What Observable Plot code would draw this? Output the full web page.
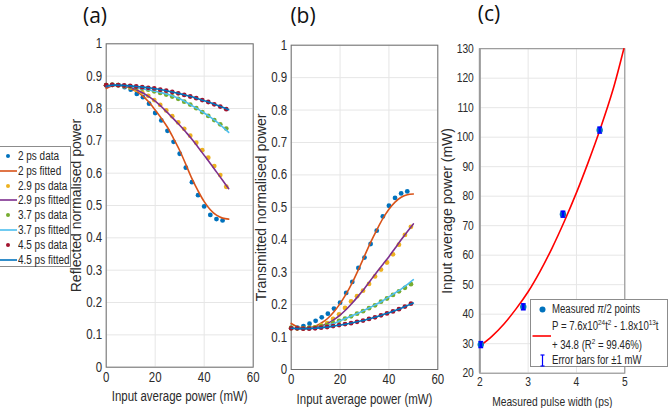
<!DOCTYPE html>
<html><head><meta charset="utf-8">
<script src="https://cdn.jsdelivr.net/npm/d3@7"></script>
<script src="https://cdn.jsdelivr.net/npm/@observablehq/plot@0.6"></script>
<style>
body{margin:0;background:#fff;}
#root{position:relative;width:668px;height:408px;overflow:hidden;font-family:"Liberation Sans",Arial,sans-serif;color:#262626;}
.title{position:absolute;font-family:"Open Sans",sans-serif;font-size:21px;color:#111;transform:translate(-50%,-50%);white-space:nowrap;}
.leg{position:absolute;background:#fff;border:1px solid #8c8c8c;box-sizing:border-box;}
.row{position:absolute;left:0;height:14px;line-height:14px;white-space:nowrap;}
.row span.t{display:inline-block;transform-origin:0 50%;position:absolute;line-height:14px;}
.row sup{font-size:8px;vertical-align:baseline;position:relative;top:-5px;line-height:0;}
.sym{position:absolute;}
</style></head>
<body><div id="root"></div>
<script>
// ---------- data ----------
const powerStep25 = [0,2.5,5,7.5,10,12.5,15,17.5,20,22.5,25,27.5,30,32.5,35,37.5,40,42.5,45,47.5];
const powerStep245 = [0,2.45,4.9,7.35,9.8,12.25,14.7,17.15,19.6,22.05,24.5,26.95,29.4,31.85,34.3,36.75,39.2,41.65,44.1,46.55,49];
const fitPower = [0,2.5,5,7.5,10,12.5,15,17.5,20,22.5,25,27.5,30,32.5,35,37.5,40,42.5,45,47.5,50];

// (a) reflected
const refl2Data  = [0.872,0.873,0.872,0.866,0.858,0.845,0.835,0.815,0.786,0.763,0.731,0.697,0.660,0.617,0.572,0.532,0.497,0.471,0.458,0.454];
const refl2Fit   = [0.862,0.870,0.872,0.870,0.862,0.852,0.838,0.819,0.795,0.770,0.742,0.707,0.670,0.627,0.583,0.545,0.512,0.487,0.470,0.461,0.458];
const refl29Data = [0.872,0.873,0.872,0.869,0.865,0.858,0.850,0.839,0.826,0.811,0.794,0.776,0.757,0.737,0.716,0.694,0.671,0.648,0.622,0.594,0.558];
const refl29Fit  = [0.866,0.871,0.872,0.870,0.865,0.857,0.848,0.836,0.823,0.806,0.787,0.768,0.748,0.727,0.705,0.680,0.655,0.630,0.604,0.578,0.552];
const refl37Data = [0.872,0.873,0.872,0.870,0.868,0.865,0.862,0.858,0.853,0.848,0.843,0.837,0.830,0.821,0.812,0.801,0.789,0.777,0.764,0.751,0.738];
const refl37Fit  = [0.868,0.871,0.872,0.870,0.868,0.864,0.860,0.857,0.853,0.849,0.844,0.838,0.830,0.820,0.809,0.798,0.786,0.773,0.759,0.743,0.726];
const refl45Data = [0.872,0.873,0.872,0.871,0.870,0.868,0.866,0.864,0.862,0.858,0.855,0.851,0.847,0.842,0.837,0.832,0.826,0.820,0.813,0.806,0.798];
const refl45Fit  = [0.869,0.872,0.872,0.871,0.870,0.868,0.866,0.864,0.861,0.858,0.854,0.850,0.846,0.841,0.836,0.830,0.824,0.818,0.811,0.804,0.796];

// (b) transmitted
const trans2Data  = [0.128,0.129,0.134,0.141,0.150,0.161,0.172,0.188,0.206,0.236,0.270,0.313,0.345,0.387,0.428,0.472,0.505,0.529,0.543,0.549];
const trans2Fit   = [0.142,0.132,0.128,0.129,0.134,0.144,0.158,0.178,0.203,0.233,0.268,0.308,0.350,0.392,0.430,0.465,0.494,0.516,0.531,0.539,0.541];
const trans29Data = [0.128,0.127,0.127,0.128,0.130,0.136,0.143,0.156,0.170,0.190,0.210,0.226,0.243,0.264,0.287,0.308,0.330,0.355,0.385,0.415,0.440];
const trans29Fit  = [0.127,0.126,0.126,0.127,0.130,0.135,0.143,0.154,0.168,0.185,0.205,0.227,0.250,0.275,0.300,0.324,0.348,0.374,0.400,0.425,0.449];
const trans37Data = [0.128,0.127,0.127,0.128,0.130,0.133,0.137,0.143,0.150,0.157,0.164,0.172,0.180,0.189,0.198,0.209,0.219,0.230,0.241,0.252,0.263];
const trans37Fit  = [0.128,0.127,0.126,0.127,0.128,0.131,0.136,0.142,0.150,0.158,0.166,0.174,0.183,0.192,0.202,0.212,0.224,0.236,0.248,0.262,0.277];
const trans45Data = [0.127,0.127,0.126,0.126,0.127,0.129,0.131,0.134,0.137,0.140,0.143,0.147,0.151,0.156,0.161,0.167,0.173,0.179,0.186,0.194,0.203];
const trans45Fit  = [0.127,0.126,0.126,0.126,0.127,0.129,0.131,0.134,0.137,0.140,0.144,0.148,0.152,0.157,0.163,0.169,0.175,0.182,0.189,0.197,0.205];

const legendNames = ["2 ps data","2 ps fitted","2.9 ps data","2.9 ps fitted","3.7 ps data","3.7 ps fitted","4.5 ps data","4.5 ps fitted"];
const seriesColors = ["#0072BD","#D95319","#EDB120","#7E2F8E","#77AC30","#4DBEEE","#A2142F","#0072BD"];

const powerTicks = [0,20,40,60];
const normTicks = [0,0.1,0.2,0.3,0.4,0.5,0.6,0.7,0.8,0.9,1];

// (c)
const pulseWidth = [2.02,2.9,3.72,4.48];
const measuredPower = [29.7,42.5,73.9,102.4];
const errorMw = 1;
const fitPulse = [2,2.25,2.5,2.75,3,3.25,3.5,3.75,4,4.25,4.5,4.75,4.98];
const fitPowerC = [29.2,32.5,36.7,41.8,47.6,54.6,62.6,71.5,81.2,91.8,103.2,115.8,130];
const pulseTicks = [2,3,4,5];
const mwTicks = [20,30,40,50,60,70,80,90,100,110,120,130];

// ---------- helpers ----------
const rows = (xs, ys) => xs.map((x,i)=>({x, y: ys[i]}));
const root = document.getElementById("root");

function squeeze(svg, k){
  svg.querySelectorAll("text").forEach(t=>{
    const tr = t.getAttribute("transform") || "";
    if (/rotate/.test(tr)) { t.style.fontSize = "14px"; return; }
    t.setAttribute("transform", (tr + " scale(" + k + ",1)").trim());
  });
}

function powerPanel({left, width, ml, mr, mt, mb, yLabel, sets}){
  const marks = [
    Plot.gridX(powerTicks, {stroke:"#e6e6e6", strokeOpacity:1}),
    Plot.gridY(normTicks, {stroke:"#e6e6e6", strokeOpacity:1}),
    Plot.frame({stroke:"#6e6e6e"}),
    Plot.axisX(powerTicks, {tickSize:0, tickPadding:5, label:"Input average power (mW)", labelAnchor:"center", labelOffset:34, labelArrow:"none"}),
    Plot.axisY(normTicks, {tickSize:0, tickPadding:4, label:yLabel, labelAnchor:"center", labelOffset:35, labelArrow:"none", tickFormat:d=>String(d)})
  ];
  sets.forEach((s,i)=>{
    if (s.kind === "data") marks.push(Plot.dot(rows(s.x, s.y), {x:"x", y:"y", r:2.4, fill:seriesColors[i], stroke:"none"}));
    else marks.push(Plot.line(rows(s.x, s.y), {x:"x", y:"y", stroke:seriesColors[i], strokeWidth:1.6, curve:"catmull-rom"}));
  });
  const svg = Plot.plot({
    width, height:408, marginLeft:ml, marginRight:mr, marginTop:mt, marginBottom:mb,
    x:{domain:[0,60]}, y:{domain:[0,1]},
    style:{fontFamily:"Liberation Sans, Arial, sans-serif", fontSize:"14px", color:"#2b2b2b", background:"transparent", overflow:"visible"},
    marks
  });
  squeeze(svg, 0.82);
  svg.style.position = "absolute"; svg.style.top = "0px";
  svg.style.left = left + "px";
  root.appendChild(svg);
}

powerPanel({left:40, width:225, ml:65.7, mr:12.3, mt:43.3, mb:41.3, yLabel:"Reflected normalised power", sets:[
  {kind:"data", x:powerStep25, y:refl2Data}, {kind:"fit", x:fitPower, y:refl2Fit},
  {kind:"data", x:powerStep245, y:refl29Data}, {kind:"fit", x:fitPower, y:refl29Fit},
  {kind:"data", x:powerStep245, y:refl37Data}, {kind:"fit", x:fitPower, y:refl37Fit},
  {kind:"data", x:powerStep245, y:refl45Data}, {kind:"fit", x:fitPower, y:refl45Fit}
]});
powerPanel({left:230, width:225, ml:60.7, mr:17.7, mt:44.7, mb:39, yLabel:"Transmitted normalised power", sets:[
  {kind:"data", x:powerStep25, y:trans2Data}, {kind:"fit", x:fitPower, y:trans2Fit},
  {kind:"data", x:powerStep245, y:trans29Data}, {kind:"fit", x:fitPower, y:trans29Fit},
  {kind:"data", x:powerStep245, y:trans37Data}, {kind:"fit", x:fitPower, y:trans37Fit},
  {kind:"data", x:powerStep245, y:trans45Data}, {kind:"fit", x:fitPower, y:trans45Fit}
]});

// panel (c)
{
  const pts = pulseWidth.map((t,i)=>({t, p: measuredPower[i]}));
  const svg = Plot.plot({
    width:238, height:408, marginLeft:49.3, marginRight:43.7, marginTop:48.2, marginBottom:35.3,
    x:{domain:[2,5]}, y:{domain:[20,130]},
    style:{fontFamily:"Liberation Sans, Arial, sans-serif", fontSize:"13px", color:"#2b2b2b", background:"transparent", overflow:"visible"},
    marks:[
      Plot.gridX(pulseTicks, {stroke:"#e6e6e6", strokeOpacity:1}),
      Plot.gridY(mwTicks, {stroke:"#e6e6e6", strokeOpacity:1}),
      Plot.frame({stroke:"#8a8a8a"}),
      Plot.ruleX([2], {stroke:"#9a9a9a", strokeWidth:2}),
      Plot.axisX(pulseTicks, {tickSize:0, tickPadding:4, label:"Measured pulse width (ps)", labelAnchor:"center", labelOffset:33, labelArrow:"none"}),
      Plot.axisY(mwTicks, {tickSize:0, tickPadding:6, label:"Input average power (mW)", labelAnchor:"center", labelOffset:38, labelArrow:"none"}),
      Plot.line(rows(fitPulse, fitPowerC), {x:"x", y:"y", stroke:"#ff0000", strokeWidth:1.6, curve:"catmull-rom"}),
      Plot.dot(pts, {x:"t", y:"p", r:3.2, fill:"#0072BD"}),
      Plot.ruleX(pts, {x:"t", y1:d=>d.p-errorMw, y2:d=>d.p+errorMw, stroke:"#0000ff", strokeWidth:2.5}),
      Plot.link(pts, {x1:d=>d.t-0.05, x2:d=>d.t+0.05, y1:d=>d.p+errorMw, y2:d=>d.p+errorMw, stroke:"#0000ff", strokeWidth:1.5}),
      Plot.link(pts, {x1:d=>d.t-0.05, x2:d=>d.t+0.05, y1:d=>d.p-errorMw, y2:d=>d.p-errorMw, stroke:"#0000ff", strokeWidth:1.5})
    ]
  });
  squeeze(svg, 0.79);
  svg.style.position = "absolute"; svg.style.left = "430px"; svg.style.top = "0px";
  root.appendChild(svg);
}

// titles
[["(a)",95,15],["(b)",303,15],["(c)",489,13]].forEach(([t,x,y])=>{
  const d = document.createElement("div"); d.className="title"; d.textContent=t;
  d.style.left = x+"px"; d.style.top = y+"px"; root.appendChild(d);
});

// legend (a)
{
  const box = document.createElement("div"); box.className="leg";
  Object.assign(box.style,{left:"-1px", top:"146px", width:"72px", height:"121px"});
  legendNames.forEach((name,i)=>{
    const cy = 9 + i*14.8;
    const r = document.createElement("div"); r.className="row";
    r.style.top = (cy-7)+"px"; r.style.width="70px";
    const isData = i%2===0;
    const sym = isData
      ? `<svg class="sym" width="18" height="14" style="left:0;top:0"><circle cx="8" cy="7" r="2" fill="${seriesColors[i]}"/></svg>`
      : `<svg class="sym" width="18" height="14" style="left:0;top:0"><line x1="0" x2="17" y1="7" y2="7" stroke="${seriesColors[i]}" stroke-width="1.6"/></svg>`;
    r.innerHTML = sym + `<span class="t" style="left:18px;font-size:12px;transform:scaleX(0.83)">${name}</span>`;
    box.appendChild(r);
  });
  root.appendChild(box);
}

// legend (c)
{
  const box = document.createElement("div"); box.className="leg";
  Object.assign(box.style,{left:"530px", top:"299px", width:"138px", height:"68px"});
  const fs = "font-size:12px;transform:scaleX(0.8)";
  box.innerHTML = `
    <svg class="sym" width="22" height="68" style="left:0;top:0">
      <circle cx="11.5" cy="9.5" r="3" fill="#0072BD"/>
      <line x1="1.5" x2="20" y1="36" y2="36" stroke="#ff0000" stroke-width="1.6"/>
      <line x1="11.5" x2="11.5" y1="55" y2="66" stroke="#0000ff" stroke-width="1.2"/>
      <line x1="9.5" x2="13.5" y1="55" y2="55" stroke="#0000ff" stroke-width="1.2"/>
      <line x1="9.5" x2="13.5" y1="66" y2="66" stroke="#0000ff" stroke-width="1.2"/>
    </svg>
    <div class="row" style="top:2px"><span class="t" style="left:21px;${fs}">Measured <i>π</i>/2 points</span></div>
    <div class="row" style="top:19px"><span class="t" style="left:21px;${fs}">P = 7.6x10<sup>24</sup>t<sup>2</sup> - 1.8x10<sup>13</sup>t</span></div>
    <div class="row" style="top:38px"><span class="t" style="left:21px;${fs}">+ 34.8 (R<sup>2</sup> = 99.46%)</span></div>
    <div class="row" style="top:53px"><span class="t" style="left:21px;${fs}">Error bars for ±1 mW</span></div>`;
  root.appendChild(box);
}
</script>
</body></html>
